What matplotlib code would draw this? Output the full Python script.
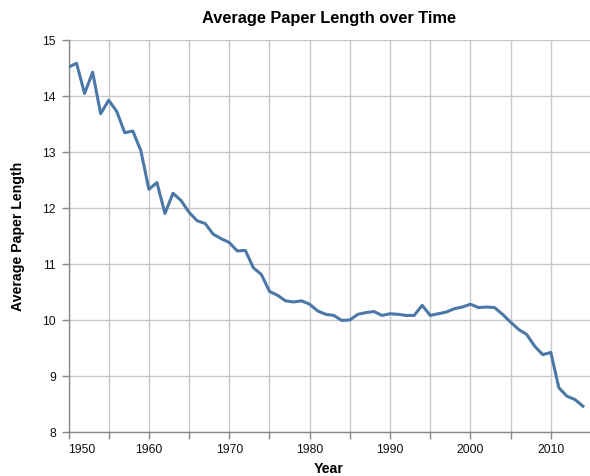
import matplotlib.pyplot as plt

plt.rcParams["font.family"] = ["Liberation Sans", "DejaVu Sans"]

# Average paper length per year
years = list(range(1950, 2015))
avg_length = [
    14.51, 14.58, 14.04, 14.42, 13.68, 13.92, 13.72, 13.34, 13.37, 13.02,
    12.33, 12.45, 11.90, 12.26, 12.13, 11.92, 11.77, 11.72, 11.53, 11.45,
    11.38, 11.23, 11.24, 10.93, 10.81, 10.51, 10.44, 10.34, 10.32, 10.34,
    10.28, 10.16, 10.10, 10.08, 9.99, 10.00, 10.10, 10.13, 10.15, 10.08,
    10.11, 10.10, 10.08, 10.08, 10.26, 10.08, 10.11, 10.14, 10.20, 10.23,
    10.28, 10.22, 10.23, 10.22, 10.10, 9.96, 9.83, 9.74, 9.53, 9.38,
    9.42, 8.79, 8.64, 8.58, 8.46,
]
x_ticks = list(range(1950, 2016, 5))
x_labels = [str(y) if y % 10 == 0 else "" for y in x_ticks]
y_ticks = list(range(8, 16))

W, H = 590, 477
left, right, top, bottom = 68.5, 591.0, 40.7, 433.0

fig = plt.figure(figsize=(W / 100, H / 100), dpi=100)
ax = fig.add_axes([left / W, 1 - bottom / H, (right - left) / W, (bottom - top) / H])

ax.plot(years, avg_length, color="#4c78a8", linewidth=2.2, zorder=3,
        solid_joinstyle="round")

ax.set_xlim(1950, 2015)
ax.set_ylim(8, 15)
ax.set_xticks(x_ticks)
ax.set_xticklabels(x_labels)
ax.set_yticks(y_ticks)
# first x label sits flush with the axis start
ax.get_xticklabels()[0].set_horizontalalignment("left")

ax.grid(True, color="#c8c8c8", linewidth=1, zorder=1)
ax.set_axisbelow(True)
for side in ["top", "right"]:
    ax.spines[side].set_visible(False)
for side in ["left", "bottom"]:
    ax.spines[side].set_color("#888888")
    ax.spines[side].set_linewidth(1)
ax.tick_params(colors="#888888", length=5, width=1, labelcolor="#111111",
               labelsize=8.8)
ax.tick_params(axis="x", pad=3)
ax.tick_params(axis="y", pad=4)

ax.set_xlabel("Year", fontsize=10.2, fontweight="bold")
ax.set_ylabel("Average Paper Length", fontsize=10.2, fontweight="bold")
ax.xaxis.set_label_coords((329 - left) / (right - left), (bottom - 469) / (bottom - top))
ax.xaxis.label.set_va("center")
ax.yaxis.set_label_coords((18 - left) / (right - left), 0.5)
ax.yaxis.label.set_va("center")

fig.text(329 / W, 1 - 18 / H, "Average Paper Length over Time",
         fontsize=11.8, fontweight="bold", ha="center", va="center")

fig.savefig("out.png", dpi=100)
